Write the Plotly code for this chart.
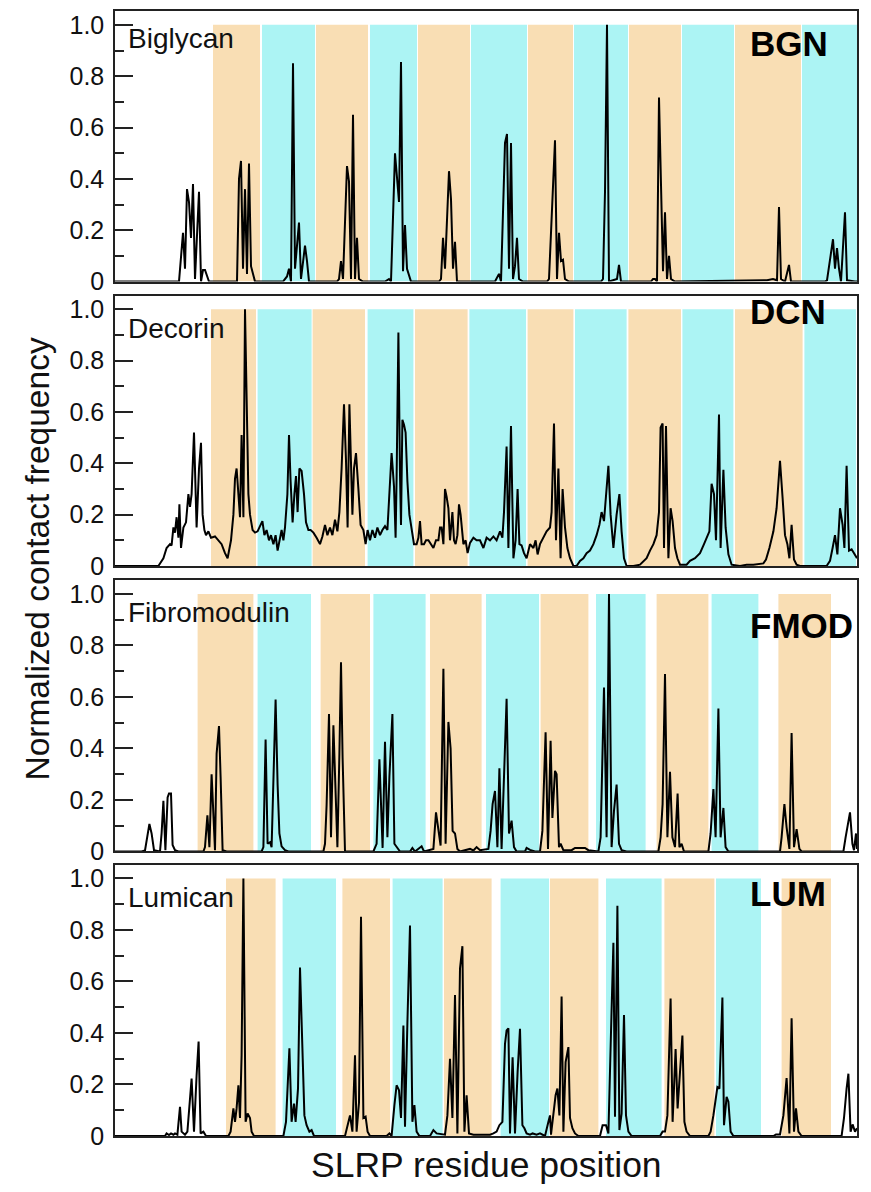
import plotly.graph_objects as go

# ---------------- data ----------------
panel_names = ["Biglycan", "Decorin", "Fibromodulin", "Lumican"]
panel_codes = ["BGN", "DCN", "FMOD", "LUM"]

y_tick_vals = [0, 0.2, 0.4, 0.6, 0.8, 1.0]
y_tick_text = ["0", "0.2", "0.4", "0.6", "0.8", "1.0"]
y_minor_vals = [0.1, 0.3, 0.5, 0.7, 0.9]

# (residue position, normalized contact frequency)
bgn_profile = [
    (0, 0), (32, 0), (34, 0.19), (35, 0.05), (36, 0.36), (37, 0.31), (38, 0.17), (39, 0.38),
    (40, 0.01), (42, 0.35), (43, 0), (44, 0.045), (45, 0.045), (47, 0),
    (61, 0), (62, 0.40), (63, 0.47), (64, 0.05), (65, 0.36), (66, 0.03), (67, 0.46), (68, 0.06), (70, 0),
    (84, 0), (86, 0.02), (87, 0.05), (88, 0), (89, 0.85), (90, 0.05), (92, 0.23), (93, 0.01),
    (95, 0.14), (96, 0.08), (97, 0),
    (111, 0), (112, 0.01), (113, 0.08), (114, 0.01), (116, 0.45), (117, 0.39), (118, 0.01),
    (119, 0.65), (120, 0.01), (121, 0.17), (122, 0.01), (124, 0),
    (135, 0), (137, 0.01), (138, 0), (140, 0.50), (142, 0.31), (143, 0.855), (144, 0.04),
    (145, 0.22), (146, 0.05), (148, 0),
    (162, 0), (163, 0.01), (164, 0.17), (165, 0.05), (167, 0.43), (168, 0.32), (169, 0.05),
    (170, 0.155), (171, 0),
    (190, 0), (192, 0.03), (193, 0), (195, 0.54), (196, 0.575), (197, 0.05), (198, 0.54),
    (199, 0.01), (200, 0.06), (201, 0.17), (202, 0.01), (204, 0),
    (216, 0), (217, 0.01), (218, 0.19), (220, 0.55), (221, 0.01), (222, 0.19), (223, 0.08),
    (224, 0.085), (225, 0.01), (227, 0),
    (243, 0), (244, 0.01), (245, 0.35), (246, 1.0), (247, 0), (251, 0.01), (252, 0.065), (253, 0),
    (268, 0), (269, 0.01), (270, 0.01), (271, 0), (272, 0.717), (273, 0.36), (274, 0.04),
    (275, 0.27), (276, 0.01), (277, 0.10), (278, 0.01), (280, 0),
    (326, 0.005), (329, 0.01), (331, 0.005), (332, 0.29), (333, 0.01), (335, 0), (337, 0.065),
    (338, 0), (340, 0),
    (355, 0), (356, 0.005), (359, 0.165), (360, 0.05), (361, 0.13), (362, 0.05), (363, 0),
    (365, 0.27), (366, 0.005), (370, 0), (371, 0),
]

dcn_profile = [
    (0, 0), (21.7, 0), (24.2, 0.03), (25.8, 0.07), (27.5, 0.085), (28.3, 0.08), (29.2, 0.15),
    (30.0, 0.13), (30.8, 0.19), (31.7, 0.11), (32.2, 0.24), (33.0, 0.07), (34.2, 0.15),
    (35.5, 0.17), (36.7, 0.28), (37.5, 0.23), (38.3, 0.28), (39.5, 0.52), (40.8, 0.15),
    (42.0, 0.38), (43.0, 0.48), (43.8, 0.20), (44.7, 0.14), (45.5, 0.12), (46.7, 0.135),
    (48.0, 0.11), (50.0, 0.115), (51.7, 0.10), (53.3, 0.085), (55.0, 0.05), (56.3, 0.03),
    (58.0, 0.10), (59.2, 0.20), (60.0, 0.34), (60.8, 0.38), (61.7, 0.28), (62.5, 0.19),
    (63.3, 0.51), (64.2, 0.19), (65.0, 1.0), (65.8, 0.72), (66.7, 0.28), (67.5, 0.20),
    (68.8, 0.14), (70.0, 0.13), (71.3, 0.135), (72.5, 0.155), (73.7, 0.175), (74.7, 0.12),
    (75.8, 0.14), (77.0, 0.10), (78.0, 0.12), (79.2, 0.085), (80.3, 0.12), (81.3, 0.06),
    (82.5, 0.11), (83.3, 0.14), (84.2, 0.10), (85.0, 0.15), (86.2, 0.28), (87.0, 0.51),
    (87.8, 0.33), (88.8, 0.17), (89.7, 0.28), (90.5, 0.35), (91.3, 0.21), (92.2, 0.38),
    (93.3, 0.37), (94.5, 0.28), (95.5, 0.17), (96.7, 0.14), (97.8, 0.14), (99.2, 0.13),
    (100.8, 0.11), (102.5, 0.085), (103.7, 0.115), (105.0, 0.16), (106.2, 0.12), (107.5, 0.15),
    (108.7, 0.12), (110.0, 0.18), (111.2, 0.135), (112.2, 0.21), (113.3, 0.38), (114.5, 0.63),
    (115.5, 0.41), (116.3, 0.15), (117.2, 0.63), (118.0, 0.33), (118.7, 0.20), (119.5, 0.38),
    (120.5, 0.44), (121.7, 0.30), (122.8, 0.16), (124.2, 0.14), (125.3, 0.085), (126.3, 0.14),
    (127.5, 0.10), (128.7, 0.14), (130.0, 0.11), (131.2, 0.15), (132.5, 0.12), (133.7, 0.14),
    (135.0, 0.155), (136.2, 0.14), (137.2, 0.30), (138.3, 0.44), (139.5, 0.31), (140.3, 0.11),
    (140.8, 0.34), (141.7, 0.91), (142.5, 0.355), (143.0, 0.16), (143.7, 0.57), (144.5, 0.55),
    (145.3, 0.52), (146.2, 0.33), (147.2, 0.20), (148.3, 0.15), (149.5, 0.085), (150.8, 0.085),
    (151.7, 0.11), (152.5, 0.175), (153.3, 0.085), (154.5, 0.085), (155.5, 0.10), (156.7, 0.10),
    (157.8, 0.085), (159.2, 0.07), (160.5, 0.10), (161.7, 0.10), (162.5, 0.15), (163.3, 0.15),
    (164.2, 0.085), (165.0, 0.30), (165.8, 0.27), (166.7, 0.225), (167.5, 0.10), (168.7, 0.21),
    (169.5, 0.10), (170.3, 0.085), (171.2, 0.12), (172.0, 0.24), (172.8, 0.20), (174.2, 0.085),
    (175.3, 0.10), (176.3, 0.05), (177.5, 0.09), (179.2, 0.11), (180.8, 0.10), (182.5, 0.10),
    (184.2, 0.07), (185.8, 0.11), (187.5, 0.10), (189.2, 0.115), (190.8, 0.10), (192.5, 0.135),
    (193.7, 0.11), (194.5, 0.21), (195.8, 0.465), (196.7, 0.07), (198.0, 0.545), (199.2, 0.03),
    (200.3, 0.10), (201.3, 0.30), (202.2, 0.085), (203.3, 0.08), (204.5, 0.05), (205.8, 0.03),
    (207.5, 0.085), (209.2, 0.07), (210.3, 0.10), (211.3, 0.045), (212.5, 0.085), (214.2, 0.11),
    (215.8, 0.135), (217.5, 0.15), (218.3, 0.21), (219.5, 0.555), (220.5, 0.10), (221.7, 0.38),
    (222.8, 0.03), (223.8, 0.30), (225.0, 0.15), (226.2, 0.07), (227.5, 0.03), (229.2, 0.0),
    (230.8, 0.0), (232.5, 0.02), (234.2, 0.03), (235.8, 0.05), (237.5, 0.06), (239.2, 0.085),
    (240.8, 0.12), (242.2, 0.16), (243.3, 0.21), (244.5, 0.175), (245.5, 0.265), (246.7, 0.39),
    (247.8, 0.20), (249.2, 0.07), (250.8, 0.20), (252.2, 0.28), (253.3, 0.135), (254.5, 0.03),
    (255.8, 0.0), (259.2, 0.0), (262.5, 0.005), (265.8, 0.03), (267.5, 0.06), (269.2, 0.085),
    (270.8, 0.12), (272.0, 0.21), (272.8, 0.54), (273.8, 0.555), (274.5, 0.07), (275.5, 0.545),
    (276.7, 0.03), (277.8, 0.225), (278.8, 0.175), (280.0, 0.07), (281.2, 0.03), (282.5, 0.005),
    (285.8, 0.005), (287.5, 0.02), (290.0, 0.03), (292.5, 0.05), (294.5, 0.085), (295.8, 0.11),
    (297.2, 0.135), (298.3, 0.32), (299.5, 0.28), (300.5, 0.10), (301.2, 0.315), (302.0, 0.59),
    (302.8, 0.07), (304.2, 0.375), (305.3, 0.15), (306.7, 0.045), (308.3, 0.005), (312.5, 0.0),
    (315.8, 0.005), (319.2, 0.005), (324.2, 0.01), (325.5, 0.025), (327.2, 0.07), (329.2, 0.135),
    (330.8, 0.225), (332.5, 0.41), (333.8, 0.265), (335.0, 0.12), (336.2, 0.085), (337.2, 0.03),
    (338.3, 0.16), (339.5, 0.025), (340.8, 0.005), (342.5, 0.0), (355.8, 0.0), (357.5, 0.02),
    (358.8, 0.07), (360.0, 0.12), (361.2, 0.045), (362.5, 0.225), (363.8, 0.16), (364.7, 0.07),
    (365.8, 0.39), (367.0, 0.06), (368.3, 0.065), (370.0, 0.045), (371.0, 0.03),
]

fmod_profile = [
    (0, 0), (13.3, 0), (15.0, 0.004), (17.2, 0.107), (18.3, 0.07), (19.5, 0.005), (22.5, 0),
    (23.3, 0.07), (24.2, 0.197), (25.2, 0.005), (26.3, 0.21), (27.0, 0.225), (28.0, 0.225),
    (28.8, 0.025), (30.0, 0.005), (31.7, 0),
    (44.2, 0), (45.0, 0.017), (46.2, 0.14), (47.2, 0.017), (48.3, 0.30), (49.2, 0.13), (50.0, 0.005),
    (50.8, 0.38), (52.0, 0.487), (52.8, 0.29), (53.8, 0.005), (55.8, 0),
    (73.3, 0), (74.2, 0.017), (75.3, 0.435), (76.3, 0.03), (77.5, 0.036), (78.3, 0.017),
    (79.2, 0.26), (80.3, 0.59), (81.3, 0.26), (82.2, 0.07), (83.3, 0.02), (85.0, 0.005), (86.7, 0),
    (104.2, 0), (105.0, 0.03), (105.8, 0.18), (107.0, 0.534), (108.0, 0.055), (109.2, 0.49),
    (110.0, 0.29), (111.2, 0.017), (112.2, 0.38), (113.0, 0.735), (113.8, 0.364), (115.0, 0),
    (129.2, 0), (130.8, 0.03), (132.2, 0.358), (133.0, 0.158), (133.8, 0.014), (135.0, 0.426),
    (136.2, 0.055), (137.2, 0.29), (138.7, 0.534), (139.7, 0.03), (140.8, 0.017), (142.5, 0),
    (147.5, 0), (148.7, 0.014), (150.0, 0), (153.3, 0.02), (154.5, 0), (157.5, 0.006),
    (159.2, 0.01), (160.5, 0.152), (161.7, 0.094), (162.8, 0.023), (164.2, 0.709), (165.3, 0.03),
    (166.7, 0.503), (167.8, 0.40), (168.8, 0.08), (170.0, 0.07), (171.2, 0.01), (172.5, 0),
    (177.5, 0.01), (179.2, 0.004), (180.8, 0.017), (182.5, 0.005), (186.7, 0.01), (187.8, 0.08),
    (188.8, 0.184), (190.0, 0.235), (191.2, 0.017), (192.2, 0.323), (193.3, 0.01), (195.8, 0.593),
    (197.0, 0.07), (198.3, 0.12), (199.5, 0.017), (200.8, 0),
    (205.0, 0), (205.8, 0.014), (207.5, 0.006), (210.0, 0), (212.5, 0), (213.7, 0.08),
    (215.3, 0.463), (216.5, 0.01), (217.8, 0.43), (218.7, 0.13), (220.0, 0.313), (220.8, 0.30),
    (222.0, 0.017), (222.8, 0.03), (224.2, 0.005), (228.3, 0.005), (230.0, 0.014), (235.0, 0.014),
    (236.7, 0.005), (241.7, 0),
    (242.8, 0.055), (244.5, 0.637), (245.8, 0.055), (247.0, 1.0), (248.3, 0.017), (249.5, 0.158),
    (250.8, 0.26), (252.0, 0.03), (253.3, 0.005), (255.8, 0),
    (271.7, 0), (272.8, 0.055), (273.8, 0.184), (275.0, 0.689), (276.2, 0.055), (277.5, 0.309),
    (278.7, 0.055), (280.0, 0.017), (281.3, 0.225), (282.2, 0.017), (283.3, 0.03), (284.5, 0),
    (296.7, 0), (297.8, 0.07), (299.2, 0.242), (300.3, 0.055), (301.7, 0.555), (302.8, 0.055),
    (304.2, 0.169), (305.3, 0.017), (306.7, 0),
    (332.5, 0), (333.3, 0.055), (334.7, 0.184), (335.8, 0.094), (337.2, 0.01), (338.3, 0.46),
    (339.5, 0.017), (340.8, 0.087), (342.2, 0.01), (343.3, 0),
    (364.2, 0), (365.3, 0.055), (366.7, 0.126), (367.5, 0.152), (368.7, 0.03), (369.5, 0.005),
    (370.5, 0.07), (371.0, 0.01),
]

lum_profile = [
    (0, 0), (25.0, 0), (25.8, 0.01), (27.0, 0.004), (28.0, 0.01), (29.2, 0.005), (30.0, 0.01),
    (31.2, 0.005), (32.5, 0.113), (33.3, 0.017), (35.0, 0.005), (36.2, 0.017), (38.3, 0.223),
    (39.5, 0.017), (40.8, 0.236), (41.8, 0.367), (42.8, 0.01), (44.2, 0.017), (45.5, 0),
    (56.7, 0), (57.8, 0.017), (59.2, 0.107), (60.0, 0.055), (60.8, 0.107), (61.7, 0.197),
    (62.5, 0.07), (63.3, 0.313), (64.2, 1.0), (65.3, 0.055), (66.3, 0.087), (67.5, 0.07),
    (68.3, 0.017), (69.5, 0),
    (84.2, 0), (85.5, 0.055), (86.3, 0.21), (87.2, 0.341), (88.3, 0.055), (89.5, 0.126),
    (90.3, 0.055), (91.5, 0.184), (92.5, 0.654), (93.7, 0.313), (94.7, 0.08), (95.8, 0.042),
    (97.2, 0.017), (98.3, 0.023), (99.5, 0),
    (115.0, 0), (116.2, 0.042), (117.5, 0.08), (118.7, 0.017), (120.0, 0.313), (120.8, 0.017),
    (122.0, 0.13), (123.0, 0.851), (124.2, 0.07), (125.3, 0.075), (126.3, 0.017), (127.5, 0),
    (135.8, 0), (137.2, 0.01), (138.3, 0), (139.7, 0.12), (140.8, 0.197), (142.0, 0.178),
    (143.0, 0.07), (144.2, 0.429), (145.0, 0.036), (146.2, 0.441), (147.5, 0.817), (148.7, 0.055),
    (149.7, 0.12), (150.8, 0.017), (152.2, 0),
    (157.5, 0), (159.2, 0.023), (160.8, 0.01), (163.3, 0.006), (165.0, 0.005), (166.2, 0.08),
    (167.5, 0.30), (168.7, 0.07), (170.0, 0.547), (171.2, 0.01), (172.5, 0.65), (173.7, 0.737),
    (174.7, 0.017), (175.8, 0.158), (177.0, 0.01), (179.2, 0.005), (182.5, 0.005),
    (187.5, 0.005), (189.2, 0.01), (190.8, 0.017), (192.2, 0.042), (193.7, 0.055), (195.0, 0.358),
    (195.8, 0.41), (196.7, 0.418), (197.5, 0.01), (198.8, 0.306), (200.0, 0.01), (201.3, 0.248),
    (202.5, 0.416), (203.7, 0.042), (204.7, 0.03), (205.8, 0.01), (207.5, 0.005), (208.8, 0.01),
    (210.8, 0.005), (212.5, 0.01), (215.0, 0),
    (216.7, 0.055), (217.5, 0.08), (218.0, 0.005), (219.2, 0.094), (220.3, 0.158), (221.2, 0.184),
    (222.2, 0.08), (223.3, 0.542), (224.2, 0.017), (225.3, 0.287), (226.7, 0.345), (227.5, 0.07),
    (228.7, 0.03), (230.0, 0.01), (231.7, 0),
    (242.5, 0), (243.8, 0.042), (245.5, 0.042), (246.7, 0.01), (248.0, 0.403), (249.2, 0.75),
    (250.0, 0.075), (251.2, 0.894), (252.2, 0.023), (253.3, 0.087), (254.5, 0.47), (255.5, 0.08),
    (256.7, 0.017), (258.3, 0),
    (272.5, 0), (273.8, 0.017), (275.0, 0.017), (276.2, 0.08), (277.8, 0.534), (278.8, 0.055),
    (280.3, 0.338), (281.3, 0.107), (283.7, 0.39), (284.7, 0.055), (285.8, 0.017), (287.5, 0),
    (296.7, 0), (297.8, 0.017), (299.2, 0.08), (301.2, 0.19), (302.2, 0.184), (303.7, 0.538),
    (304.5, 0.042), (305.8, 0.152), (306.7, 0.133), (307.8, 0.017), (309.2, 0),
    (329.2, 0), (330.5, 0.006), (332.5, 0.006), (334.2, 0.08), (335.8, 0.225), (337.2, 0.01),
    (338.3, 0.457), (339.5, 0.017), (340.5, 0.107), (341.7, 0.017), (343.3, 0),
    (363.3, 0), (364.5, 0.07), (365.8, 0.184), (366.7, 0.242), (367.8, 0.017), (368.8, 0.045),
    (370.0, 0.017), (371.0, 0.03),
]

# repeat regions (start, end); colours alternate orange / cyan starting with orange
bgn_bands = [(49, 72.5), (73.5, 100), (100.5, 126.5), (127.5, 151), (151.5, 177.5), (178, 206),
             (206.5, 229), (229.5, 256.5), (257, 283), (283.5, 309.5), (310, 343), (343.5, 371)]
dcn_bands = [(48, 70.5), (71.3, 98.3), (98.8, 125), (126.3, 149.2), (150, 176.3), (177.2, 205.5),
             (206.3, 229.2), (230, 255.8), (256.7, 283), (283.7, 309.2), (310, 343.8), (344.7, 370.5)]
fmod_bands = [(41.3, 69.2), (71.3, 98), (102.8, 127.5), (129.2, 155.3), (157.5, 183.3), (185.5, 212),
              (212.8, 236.7), (240.5, 265.3), (270.8, 296.7), (298.3, 321.7), (331.7, 358)]
lum_bands = [(55.5, 80.3), (83.8, 110.5), (113.7, 137.5), (138.8, 163.8), (164.5, 188.3), (192.8, 217),
             (217.5, 241.7), (245.5, 273.3), (274.7, 299.7), (300.5, 323), (333.3, 358)]

profiles = [bgn_profile, dcn_profile, fmod_profile, lum_profile]
bands = [bgn_bands, dcn_bands, fmod_bands, lum_bands]

# ---------------- styling ----------------
FONT = "Liberation Sans, Arial, Helvetica, sans-serif"
ORANGE = "rgb(249,222,180)"
CYAN = "rgb(172,244,244)"
# the page body adds an 8px offset, so the figure is sized to fit the remaining window
W, H = 863, 1184
ML, MR, MT, MB = 107, 14, 1, 56
domains = [(0.7595, 1.0), (0.5067, 0.7471), (0.2529, 0.4942), (0.0, 0.2413)]
name_y = [0.9752, 0.7178, 0.4650, 0.2121]
code_y = [0.9707, 0.7329, 0.4534, 0.2156]

fig = go.Figure()
shapes = []
annotations = []
layout_axes = {}

for i in range(4):
    s = "" if i == 0 else str(i + 1)
    xs = [p[0] for p in profiles[i]]
    ys = [p[1] for p in profiles[i]]
    fig.add_trace(go.Scatter(x=xs, y=ys, mode="lines", xaxis="x" + s, yaxis="y" + s,
                             line=dict(color="black", width=2), showlegend=False,
                             hoverinfo="skip"))
    for k, (a, b) in enumerate(bands[i]):
        shapes.append(dict(type="rect", xref="x" + s, yref="y" + s, x0=a, x1=b, y0=0, y1=1.0,
                           fillcolor=ORANGE if k % 2 == 0 else CYAN, line=dict(width=0),
                           layer="below"))
    layout_axes["xaxis" + s] = dict(
        domain=[0, 1], anchor="y" + s, range=[0, 371], showticklabels=False, ticks="",
        showgrid=False, zeroline=False, showline=True, mirror=True, linecolor="#222",
        linewidth=1.5)
    layout_axes["yaxis" + s] = dict(
        domain=list(domains[i]), anchor="x" + s, range=[0, 1.054], tickvals=y_tick_vals,
        ticktext=y_tick_text, ticks="inside", ticklen=18, tickwidth=1.5, tickcolor="#222",
        ticklabelstandoff=4,
        minor=dict(tickvals=y_minor_vals, ticks="inside", ticklen=9, tickwidth=1.5,
                   tickcolor="#222"),
        tickfont=dict(family=FONT, size=25, color="#111"), showgrid=False, zeroline=False,
        showline=True, mirror=True, linecolor="#222", linewidth=1.5)
    annotations.append(dict(text=panel_names[i], xref="paper", yref="paper", x=0.0148,
                            y=name_y[i], xanchor="left", yanchor="middle", showarrow=False,
                            font=dict(family=FONT, size=28, color="#111")))
    annotations.append(dict(text="<b>" + panel_codes[i] + "</b>", xref="paper", yref="paper",
                            x=0.853, y=code_y[i], xanchor="left", yanchor="middle",
                            showarrow=False, font=dict(family=FONT, size=35, color="black")))

annotations.append(dict(text="Normalized contact frequency", xref="paper", yref="paper",
                        x=-0.105, y=0.5125, xanchor="center", yanchor="middle", textangle=-90,
                        showarrow=False, font=dict(family=FONT, size=33.5, color="#111")))
annotations.append(dict(text="SLRP residue position", xref="paper", yref="paper",
                        x=0.5, y=-0.0257, xanchor="center", yanchor="middle",
                        showarrow=False, font=dict(family=FONT, size=35.5, color="#111")))

fig.update_layout(width=W, height=H, margin=dict(l=ML, r=MR, t=MT, b=MB),
                  paper_bgcolor="white", plot_bgcolor="white", shapes=shapes,
                  annotations=annotations, **layout_axes)

fig.write_html("out.html")
